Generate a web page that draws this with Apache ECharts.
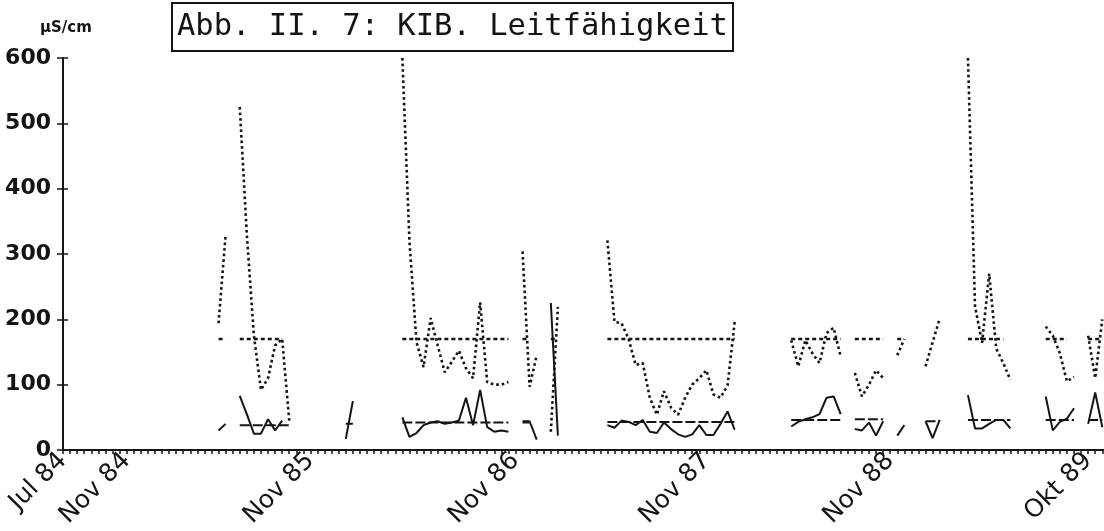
<!DOCTYPE html>
<html>
<head>
<meta charset="utf-8">
<title>KIB. Leitfähigkeit</title>
<script src="https://cdn.jsdelivr.net/npm/echarts@6.0.0/dist/echarts.min.js"></script>
<style>
  html, body { margin: 0; padding: 0; background: #fff; }
  #chart { width: 1104px; height: 531px; }
</style>
</head>
<body>
<div id="chart"></div>
<script>
// Sampling dates run roughly fortnightly from Jul 84 to Okt 89.
const sampleCount = 150;
const tickIndex = [0, 9, 35, 64, 91, 117, 145];
const tickText = ['Jul 84', 'Nov 84', 'Nov 85', 'Nov 86', 'Nov 87', 'Nov 88', 'Okt 89'];

// Each run: first sample index, then consecutive values (µS/cm).
const dottedRuns = [
  [22, 194, 329],
  [25, 525, 330, 175, 92, 110, 160, 170, 45],
  [48, 600, 320, 165, 127, 202, 160, 119, 135, 152, 125, 110, 226, 104, 100, 100, 104],
  [65, 304, 97, 145],
  [69, 28, 219],
  [77, 321, 196, 194, 170, 130, 133, 80, 54, 90, 65, 54, 80, 100, 110, 122, 85, 80, 99, 196],
  [103, 168, 128, 168, 148, 133, 179, 187, 143],
  [112, 118, 82, 100, 122, 110],
  [118, 145, 170],
  [122, 128, 165, 201],
  [128, 600, 220, 164, 270, 155, 133, 107],
  [139, 189, 175, 148, 105, 112],
  [145, 175, 110, 200]
];

const solidRuns = [
  [22, 30, 40],
  [25, 83, 55, 25, 25, 47, 30, 45],
  [40, 17, 75],
  [48, 50, 20, 26, 38, 42, 44, 40, 42, 45, 80, 38, 92, 35, 28, 30, 28],
  [65, 44, 44, 16],
  [69, 225, 22],
  [77, 38, 34, 45, 43, 38, 46, 28, 26, 42, 32, 24, 20, 24, 38, 23, 23, 40, 59, 31],
  [103, 36, 43, 47, 50, 55, 80, 82, 55],
  [112, 32, 30, 42, 22, 44],
  [118, 22, 38],
  [122, 44, 18, 46],
  [128, 84, 33, 33, 40, 46, 46, 33],
  [139, 82, 30, 43, 48, 64],
  [145, 40, 88, 35]
];

// Level lines: [from index, to index, value]
const upperLevelRuns = [
  [22, 23, 170], [25, 31, 170], [48, 63, 170], [65, 66, 170], [69, 70, 170],
  [77, 95, 170], [103, 110, 170], [112, 116, 170], [118, 119, 170],
  [128, 133, 170], [139, 142, 170], [145, 147, 170]
];
const lowerLevelRuns = [
  [25, 32, 38], [40, 41, 40], [48, 63, 42], [65, 66, 42], [77, 95, 43],
  [103, 110, 46], [112, 116, 47], [122, 124, 44], [128, 134, 46],
  [139, 143, 46], [145, 147, 46]
];

const yTicks = [0, 100, 200, 300, 400, 500, 600];

function expandRuns(runs) {
  const out = new Array(sampleCount).fill(null);
  runs.forEach(([start, ...vals]) => vals.forEach((v, k) => { out[start + k] = v; }));
  return out;
}
function expandLevels(runs) {
  const out = new Array(sampleCount).fill(null);
  runs.forEach(([from, to, v]) => { for (let i = from; i <= to; i++) out[i] = v; });
  return out;
}

const samples = Array.from({ length: sampleCount }, (_, i) => String(i + 1));
const ink = '#141414';
const mono = '"DejaVu Sans Mono", monospace';
const sans = '"DejaVu Sans", sans-serif';
const step = 7.07;

const chart = echarts.init(document.getElementById('chart'), null, { renderer: 'canvas' });

function lineSeries(data, width, type, z) {
  return {
    type: 'line',
    data: data,
    symbol: 'none',
    showSymbol: false,
    connectNulls: false,
    silent: true,
    z: z,
    lineStyle: { color: ink, width: width, type: type, cap: 'butt' }
  };
}

chart.setOption({
  backgroundColor: '#ffffff',
  animation: false,
  title: {
    text: 'Abb. II. 7: KIB. Leitfähigkeit',
    left: 172,
    top: 3,
    padding: [9, 5, 8, 5],
    borderColor: ink,
    borderWidth: 2,
    textStyle: { fontFamily: mono, fontSize: 30.5, fontWeight: 'normal', color: ink }
  },
  graphic: [{
    type: 'text',
    left: 40,
    top: 21,
    style: { text: 'µS/cm', font: 'bold 15px "DejaVu Sans", sans-serif', fill: ink }
  }],
  grid: {
    left: 63, top: 58, width: (sampleCount - 1) * step, height: 392,
    containLabel: false, outerBoundsMode: 'none'
  },
  xAxis: {
    type: 'category',
    data: samples,
    boundaryGap: false,
    axisLine: { lineStyle: { color: ink, width: 2 } },
    axisTick: { show: true, interval: 0, length: 4, lineStyle: { color: ink, width: 1.5 } },
    axisLabel: {
      interval: (idx) => tickIndex.indexOf(idx) >= 0,
      formatter: (v, idx) => tickText[tickIndex.indexOf(idx)] || '',
      rotate: 45,
      margin: 7,
      fontFamily: sans,
      fontSize: 25,
      color: ink
    },
    splitLine: { show: false }
  },
  yAxis: [{
    type: 'value',
    min: yTicks[0],
    max: yTicks[yTicks.length - 1],
    interval: 100,
    axisLine: { show: true, lineStyle: { color: ink, width: 2 } },
    axisTick: { show: true, length: 6, lineStyle: { color: ink, width: 1.5 } },
    axisLabel: { fontFamily: sans, fontWeight: 'bold', fontSize: 22, color: ink, margin: 12 },
    splitLine: { show: false }
  }, {
    type: 'value',
    position: 'left',
    min: yTicks[0],
    max: yTicks[yTicks.length - 1],
    interval: 100,
    axisLine: { show: false },
    axisTick: { show: true, inside: true, length: 5, lineStyle: { color: ink, width: 1.5 } },
    axisLabel: { show: false },
    splitLine: { show: false }
  }],
  series: [
    lineSeries(expandRuns(dottedRuns), 2.6, [2.6, 3], 3),
    lineSeries(expandLevels(upperLevelRuns), 2.6, [4, 3], 2),
    lineSeries(expandRuns(solidRuns), 2, 'solid', 4),
    lineSeries(expandLevels(lowerLevelRuns), 2, [10, 3], 2)
  ]
});
</script>
</body>
</html>
